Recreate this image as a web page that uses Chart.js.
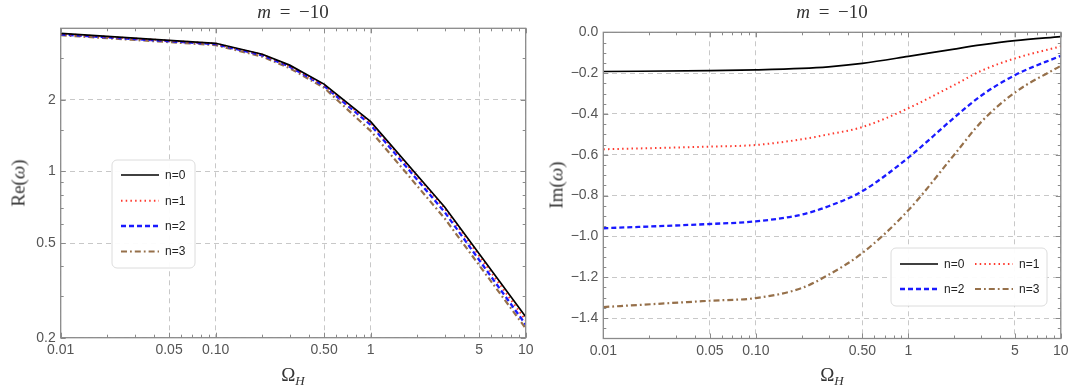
<!DOCTYPE html>
<html><head><meta charset="utf-8">
<script src="https://cdn.jsdelivr.net/npm/chart.js@4"></script>
<style>
html,body{margin:0;padding:0;background:#fff;width:1090px;height:391px;overflow:hidden}
.panel{position:absolute;top:0;width:545px;height:391px}
canvas{position:absolute;left:0;top:0}
.t{position:absolute;font-family:"Liberation Serif","Times New Roman",serif;color:#333;white-space:nowrap;line-height:1;transform:translate(-50%,-50%)}
.r{transform:translate(-50%,-50%) rotate(-90deg)}
.t sub{font-size:13px;vertical-align:-4px;line-height:1}
</style></head><body>
<div class="panel" style="left:0"><canvas id="c1" width="545" height="391"></canvas></div>
<div class="panel" style="left:545px"><canvas id="c2" width="545" height="391"></canvas></div>
<div class="t" style="left:293px;top:11px;font-size:19px;word-spacing:4px"><i>m</i> = −10</div>
<div class="t" style="left:832px;top:11px;font-size:19px;word-spacing:4px"><i>m</i> = −10</div>
<div class="t r" style="left:18px;top:183px;font-size:19px">Re(<i>ω</i>)</div>
<div class="t r" style="left:556px;top:185px;font-size:19px">Im(<i>ω</i>)</div>
<div class="t" style="left:293px;top:376px;font-size:19px">Ω<sub><i>H</i></sub></div>
<div class="t" style="left:832px;top:376px;font-size:19px">Ω<sub><i>H</i></sub></div>
<script>
// ---------- data ----------
const seriesNames = ['n=0','n=1','n=2','n=3'];

const omegaRe = [0.01, 0.1, 0.2, 0.3, 0.5, 1, 3, 10];
const reN0 = [3.81, 3.46, 3.11, 2.80, 2.33, 1.62, 0.709, 0.245];
const reN1 = [3.79, 3.45, 3.10, 2.78, 2.31, 1.60, 0.700, 0.237];
const reN2 = [3.77, 3.43, 3.08, 2.76, 2.29, 1.57, 0.675, 0.227];
const reN3 = [3.74, 3.40, 3.04, 2.72, 2.25, 1.48, 0.635, 0.219];

const omegaIm = [0.01, 0.05, 0.1, 0.2, 0.3, 0.5, 1, 2, 3, 5, 10];
const imN0 = [-0.192, -0.188, -0.184, -0.177, -0.169, -0.152, -0.118, -0.082, -0.062, -0.041, -0.021];
const imN1 = [-0.573, -0.560, -0.552, -0.524, -0.500, -0.464, -0.372, -0.258, -0.189, -0.128, -0.069];
const imN2 = [-0.960, -0.939, -0.926, -0.893, -0.852, -0.778, -0.614, -0.418, -0.311, -0.210, -0.115];
const imN3 = [-1.346, -1.315, -1.302, -1.253, -1.188, -1.081, -0.872, -0.600, -0.440, -0.295, -0.164];

const omegaTicks = [0.01, 0.05, 0.1, 0.5, 1, 5, 10];
const omegaTickLabels = ['0.01', '0.05', '0.10', '0.50', '1', '5', '10'];
const omegaMinor = [0.02,0.03,0.04,0.06,0.07,0.08,0.09,0.2,0.3,0.4,0.6,0.7,0.8,0.9,2,3,4,6,7,8,9];

const reTicks = [0.2, 0.5, 1, 2];
const reTickLabels = ['0.2', '0.5', '1', '2'];
const reMinor = [0.3, 0.4, 0.6, 0.7, 0.8, 0.9, 1.5, 3];

const imTicks = [-1.4, -1.2, -1.0, -0.8, -0.6, -0.4, -0.2, 0.0];
const imTickLabels = ['−1.4', '−1.2', '−1.0', '−0.8', '−0.6', '−0.4', '−0.2', '0.0'];
const imMinor = [-1.45,-1.35,-1.3,-1.25,-1.15,-1.1,-1.05,-0.95,-0.9,-0.85,-0.75,-0.7,-0.65,-0.55,-0.5,-0.45,-0.35,-0.3,-0.25,-0.15,-0.1,-0.05];

// ---------- styles ----------
const styles = [
  {borderColor:'#000000', borderWidth:1.7, borderDash:[]},
  {borderColor:'#ff3a2e', borderWidth:2, borderDash:[1.5,3.2]},
  {borderColor:'#1a1aff', borderWidth:2.3, borderDash:[5,3]},
  {borderColor:'#96704a', borderWidth:2.2, borderDash:[6,3,1.8,3]}
];

function toXY(xs, ys){ return xs.map((x,i)=>({x:x, y:ys[i]})); }

const framePlugin = {
  id:'frameTicks',
  afterDatasetsDraw(chart, args, opts){
    const ctx = chart.ctx, a = chart.chartArea;
    const xs = chart.scales.x, ys = chart.scales.y;
    ctx.save();
    ctx.strokeStyle = '#8a8a8a';
    ctx.lineWidth = 1;
    const tick = (x1,y1,x2,y2)=>{ctx.beginPath();ctx.moveTo(x1,y1);ctx.lineTo(x2,y2);ctx.stroke();};
    const drawX = (vals,len)=>vals.forEach(v=>{const p=Math.round(xs.getPixelForValue(v))+0.5; tick(p,a.bottom,p,a.bottom-len); tick(p,a.top,p,a.top+len);});
    const drawY = (vals,len)=>vals.forEach(v=>{const p=Math.round(ys.getPixelForValue(v))+0.5; tick(a.left,p,a.left+len,p); tick(a.right,p,a.right-len,p);});
    drawX(opts.xMajor,5); drawX(opts.xMinor,3);
    drawY(opts.yMajor,5); drawY(opts.yMinor,3);
    ctx.strokeStyle = '#8a8a8a';
    ctx.lineWidth = 1.3;
    ctx.strokeRect(a.left, a.top, a.right-a.left, a.bottom-a.top);
    ctx.restore();
  },
  afterDraw(chart, args, opts){
    const L = opts.legend; if(!L) return;
    const ctx = chart.ctx;
    ctx.save();
    ctx.beginPath();
    if (ctx.roundRect) ctx.roundRect(L.x, L.y, L.w, L.h, 5); else ctx.rect(L.x, L.y, L.w, L.h);
    ctx.fillStyle = 'rgba(255,255,255,0.95)';
    ctx.fill();
    ctx.strokeStyle = '#dcdcdc';
    ctx.lineWidth = 1;
    ctx.stroke();
    ctx.font = '12px "Liberation Sans", Arial, sans-serif';
    ctx.textBaseline = 'middle';
    ctx.fillStyle = '#222';
    chart.data.datasets.forEach((ds,i)=>{
      const e = L.items[i];
      ctx.save();
      ctx.strokeStyle = ds.borderColor;
      ctx.lineWidth = ds.borderWidth;
      ctx.setLineDash(ds.borderDash || []);
      ctx.beginPath(); ctx.moveTo(e[0], e[2]); ctx.lineTo(e[1], e[2]); ctx.stroke();
      ctx.restore();
      ctx.fillText(ds.label, e[1]+6, e[2]+0.5);
    });
    ctx.restore();
  }
};

const tickFont = {family:'"Liberation Sans", Arial, sans-serif', size:14};

function makeChart(id, datasets, cfg){
  return new Chart(document.getElementById(id), {
    type:'line',
    data:{datasets: datasets},
    plugins:[framePlugin],
    options:{
      responsive:false, animation:false, devicePixelRatio:1,
      layout:{padding:{left:0, right:cfg.padRight, top:cfg.padTop, bottom:0}},
      elements:{point:{radius:0}},
      plugins:{
        legend:{display:false}, tooltip:{enabled:false},
        frameTicks:{xMajor:omegaTicks, xMinor:omegaMinor, yMajor:cfg.yTicks, yMinor:cfg.yMinor, legend:cfg.legend}
      },
      scales:{
        x:{
          type:'logarithmic', min:0.01, max:10, position:'bottom',
          afterBuildTicks:(s)=>{ s.ticks = omegaTicks.map(v=>({value:v})); },
          afterFit:(s)=>{ s.height = cfg.xAxisH; },
          ticks:{autoSkip:false, maxRotation:0, padding:4, color:'#555', font:tickFont,
                 callback:(v,i)=>omegaTickLabels[i]},
          grid:{color:'#c8c8c8', lineWidth:1, drawTicks:false},
          border:{display:false, dash:[5,4]}
        },
        y:{
          type:cfg.yType, min:cfg.yMin, max:cfg.yMax, position:'left',
          afterBuildTicks:(s)=>{ s.ticks = cfg.yTicks.map(v=>({value:v})); },
          afterFit:(s)=>{ s.width = cfg.yAxisW; },
          ticks:{autoSkip:false, padding:5, color:'#555', font:tickFont,
                 callback:(v,i)=>cfg.yTickLabels[i]},
          grid:{color:'#c8c8c8', lineWidth:1, drawTicks:false},
          border:{display:false, dash:[5,4]}
        }
      }
    }
  });
}

const reSeries = [reN0, reN1, reN2, reN3];
const imSeries = [imN0, imN1, imN2, imN3];

makeChart('c1', reSeries.map((ys,i)=>Object.assign({label:seriesNames[i], data:toXY(omegaRe, ys), tension:0, fill:false}, styles[i])), {
  padRight:19.3, padTop:28.3, xAxisH:53.3, yAxisW:60.7,
  yType:'logarithmic', yMin:0.2, yMax:4, yTicks:reTicks, yTickLabels:reTickLabels, yMinor:reMinor,
  legend:{x:112, y:160, w:83, h:108, items:[[121,159,175],[121,159,200.7],[121,159,226],[121,159,251.5]]}
});

makeChart('c2', imSeries.map((ys,i)=>Object.assign({label:seriesNames[i], data:toXY(omegaIm, ys), cubicInterpolationMode:'monotone', fill:false}, styles[i])), {
  padRight:29.2, padTop:32.3, xAxisH:52.5, yAxisW:58.3,
  yType:'linear', yMin:-1.5, yMax:0, yTicks:imTicks, yTickLabels:imTickLabels, yMinor:imMinor,
  legend:{x:346, y:248, w:156, h:58, items:[[355,393,264],[430,468,264],[355,393,289],[430,468,289]]}
});
</script>
</body></html>
